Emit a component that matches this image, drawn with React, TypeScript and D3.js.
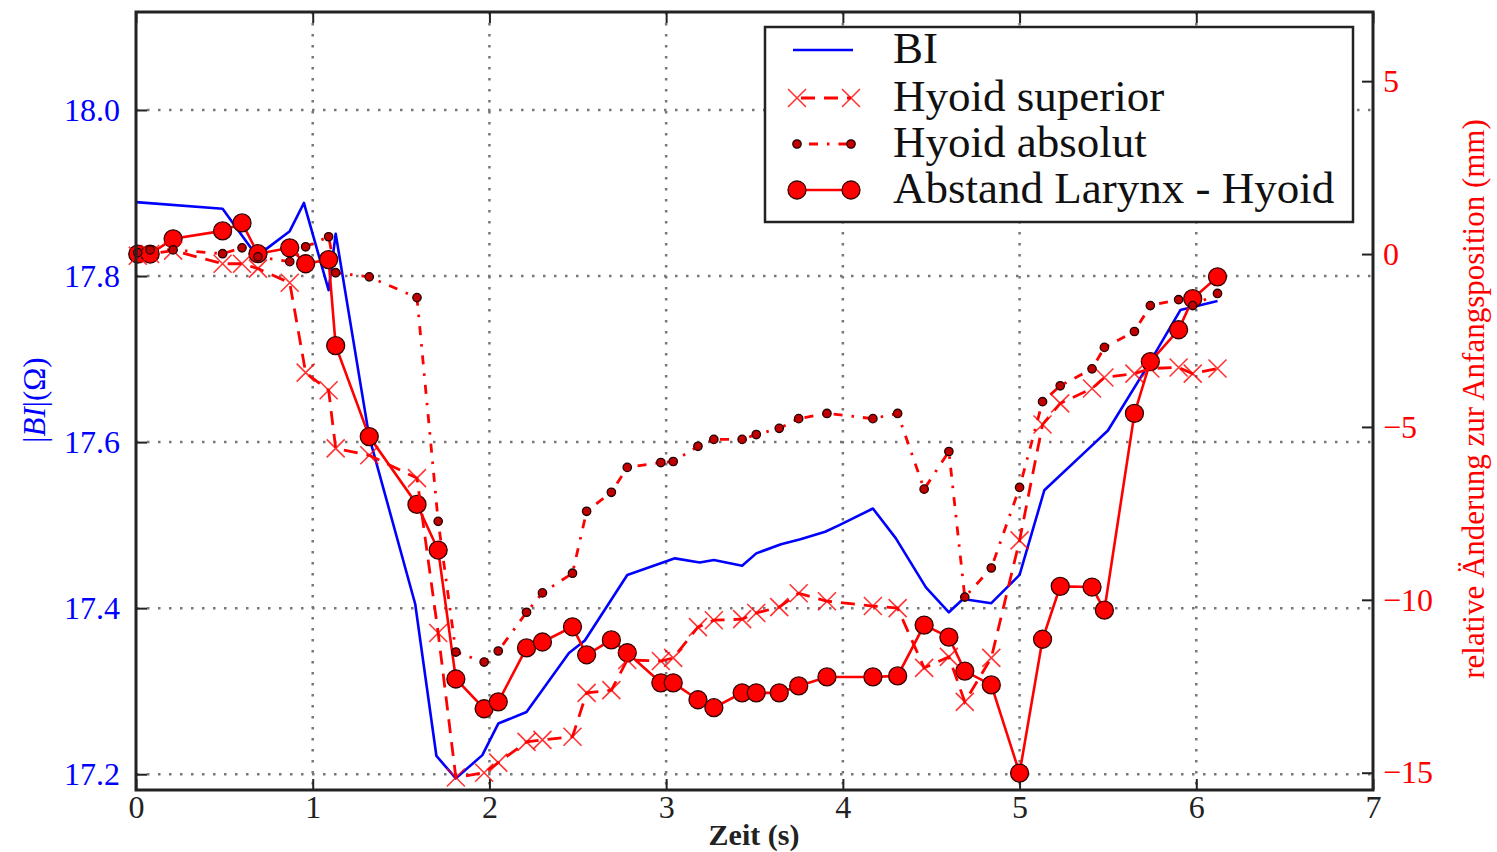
import React, { useEffect, useRef } from "react";
import * as d3 from "d3";

// BI impedance (left axis, Ohm)
const biTime = [0, 0.49, 0.66, 0.74, 0.87, 0.95, 1.09, 1.13, 1.32, 1.58, 1.7, 1.81, 1.96, 2.05, 2.21, 2.45, 2.54, 2.78, 3.05, 3.19, 3.27, 3.43, 3.51, 3.65, 3.76, 3.9, 3.98, 4.17, 4.3, 4.47, 4.6, 4.68, 4.84, 5.0, 5.14, 5.4, 5.5, 5.72, 5.91, 6.12];
const biValues = [17.889, 17.881, 17.831, 17.833, 17.854, 17.888, 17.783, 17.851, 17.606, 17.405, 17.222, 17.195, 17.223, 17.261, 17.275, 17.346, 17.361, 17.44, 17.46, 17.455, 17.458, 17.451, 17.466, 17.477, 17.483, 17.492, 17.5, 17.52, 17.484, 17.425, 17.395, 17.411, 17.406, 17.44, 17.542, 17.594, 17.614, 17.69, 17.759, 17.77];

// video frames shared by the three position series (right axis, mm)
const redTime = [0.01, 0.08, 0.21, 0.49, 0.6, 0.69, 0.87, 0.96, 1.09, 1.13, 1.32, 1.59, 1.71, 1.81, 1.97, 2.05, 2.21, 2.3, 2.47, 2.55, 2.69, 2.78, 2.97, 3.04, 3.18, 3.27, 3.43, 3.51, 3.64, 3.75, 3.91, 4.17, 4.31, 4.46, 4.6, 4.69, 4.84, 5.0, 5.13, 5.23, 5.41, 5.48, 5.65, 5.74, 5.9, 5.98, 6.12];
const hyoidSuperior = [-0.05, 0.0, 0.1, -0.28, -0.28, -0.42, -0.83, -3.43, -3.94, -5.62, -5.82, -6.48, -10.96, -15.14, -15.0, -14.71, -14.11, -14.05, -13.96, -12.69, -12.61, -11.74, -11.77, -11.68, -10.79, -10.59, -10.56, -10.38, -10.21, -9.81, -10.04, -10.18, -10.24, -11.97, -11.65, -12.95, -11.68, -8.28, -4.93, -4.32, -3.89, -3.57, -3.46, -3.31, -3.28, -3.46, -3.31];
const hyoidAbsolut = [0.04, 0.12, 0.12, 0.01, 0.18, -0.08, -0.22, 0.21, 0.5, -0.54, -0.66, -1.26, -7.73, -11.51, -11.8, -11.48, -10.36, -9.8, -9.23, -7.44, -6.89, -6.17, -6.03, -6.0, -5.56, -5.36, -5.36, -5.22, -5.04, -4.76, -4.61, -4.76, -4.61, -6.8, -5.71, -9.92, -9.08, -6.75, -4.27, -3.81, -3.32, -2.7, -2.24, -1.49, -1.32, -1.49, -1.14];
const abstandLarynxHyoid = [0.0, 0.0, 0.44, 0.67, 0.9, 0.01, 0.18, -0.28, -0.16, -2.65, -5.28, -7.24, -8.56, -12.29, -13.15, -12.95, -11.39, -11.22, -10.78, -11.59, -11.16, -11.53, -12.4, -12.4, -12.89, -13.12, -12.69, -12.69, -12.69, -12.49, -12.23, -12.23, -12.2, -10.73, -11.08, -12.06, -12.46, -15.01, -11.14, -9.61, -9.63, -10.3, -4.61, -3.11, -2.19, -1.29, -0.66];

const xTicks = [0, 1, 2, 3, 4, 5, 6, 7];
const leftTicks = [17.2, 17.4, 17.6, 17.8, 18.0];
const rightTicks = [-15, -10, -5, 0, 5];
const legendLabels = ["BI", "Hyoid superior", "Hyoid absolut", "Abstand Larynx - Hyoid"];

const W = 1497;
const H = 852;
const FONT = "'Liberation Serif', 'Times New Roman', serif";
const BLUE = "#0000ff";
const RED = "#ff0000";
const DASH = "14,9";
const DASHDOT = "9,9,2.5,9";

function App() {
  const svgRef = useRef(null);

  useEffect(() => {
    const svg = d3.select(svgRef.current);
    svg.selectAll("*").remove();

    const left = 136, right = 1373, top = 12, bottom = 790;
    const x = d3.scaleLinear().domain([0, 7]).range([left, right]);
    const yL = d3.scaleLinear().domain([17.181, 18.118]).range([bottom, top]);
    const yR = d3.scaleLinear().domain([-15.5, 7]).range([bottom, top]);

    svg.append("rect").attr("width", W).attr("height", H).attr("fill", "white");

    // grid
    const grid = svg.append("g").attr("stroke", "#777").attr("stroke-width", 2.5).attr("stroke-dasharray", "2.5,8.5");
    xTicks.slice(1, -1).forEach((t) => {
      grid.append("line").attr("x1", x(t)).attr("x2", x(t)).attr("y1", top).attr("y2", bottom);
    });
    leftTicks.forEach((v) => {
      grid.append("line").attr("x1", left).attr("x2", right).attr("y1", yL(v)).attr("y2", yL(v));
    });

    // axes
    const styleAxis = (g, color) => {
      g.select(".domain").remove();
      g.selectAll("line").attr("stroke", "#222").attr("stroke-width", 2);
      g.selectAll("text").attr("font-family", FONT).attr("font-size", 32).attr("fill", color);
    };
    svg.append("g").attr("transform", `translate(${left},0)`)
      .call(d3.axisLeft(yL).tickValues(leftTicks).tickFormat(d3.format(".1f")).tickSize(-11).tickPadding(16))
      .call((g) => styleAxis(g, BLUE));
    svg.append("g").attr("transform", `translate(${right},0)`)
      .call(d3.axisRight(yR).tickValues(rightTicks).tickFormat(d3.format("d")).tickSize(-11).tickPadding(10))
      .call((g) => styleAxis(g, RED));
    svg.append("g").attr("transform", `translate(0,${bottom})`)
      .call(d3.axisBottom(x).tickValues(xTicks).tickFormat(d3.format("d")).tickSize(-11).tickPadding(5))
      .call((g) => styleAxis(g, "#222"));
    svg.append("g").attr("transform", `translate(0,${top})`)
      .call(d3.axisTop(x).tickValues(xTicks).tickFormat(() => "").tickSize(-11))
      .call((g) => styleAxis(g, "#222"));

    // series
    const plot = svg.append("g");
    const biLine = d3.line<number>().x((d, i) => x(biTime[i])).y((d) => yL(d));
    plot.append("path").datum(biValues).attr("fill", "none").attr("stroke", BLUE)
      .attr("stroke-width", 2.6).attr("stroke-linejoin", "round").attr("d", biLine);

    const rLine = d3.line<number>().x((d, i) => x(redTime[i])).y((d) => yR(d));
    const xMark = (s) => `M${-s},${-s}L${s},${s}M${-s},${s}L${s},${-s}`;

    // Abstand Larynx - Hyoid
    plot.append("path").datum(abstandLarynxHyoid).attr("fill", "none").attr("stroke", RED)
      .attr("stroke-width", 2.6).attr("d", rLine);
    plot.append("g").selectAll("circle").data(abstandLarynxHyoid).join("circle")
      .attr("cx", (d, i) => x(redTime[i])).attr("cy", (d) => yR(d)).attr("r", 9)
      .attr("fill", RED).attr("stroke", "#300").attr("stroke-width", 1.3);

    // Hyoid superior
    plot.append("path").datum(hyoidSuperior).attr("fill", "none").attr("stroke", RED)
      .attr("stroke-width", 2.8).attr("stroke-dasharray", DASH).attr("d", rLine);
    plot.append("g").selectAll("path").data(hyoidSuperior).join("path")
      .attr("transform", (d, i) => `translate(${x(redTime[i])},${yR(d)})`)
      .attr("d", xMark(9)).attr("stroke", RED).attr("stroke-opacity", 0.8).attr("stroke-width", 1.6).attr("fill", "none");

    // Hyoid absolut
    plot.append("path").datum(hyoidAbsolut).attr("fill", "none").attr("stroke", RED)
      .attr("stroke-width", 2.8).attr("stroke-dasharray", DASHDOT).attr("d", rLine);
    plot.append("g").selectAll("circle").data(hyoidAbsolut).join("circle")
      .attr("cx", (d, i) => x(redTime[i])).attr("cy", (d) => yR(d)).attr("r", 4.2)
      .attr("fill", "#c00000").attr("stroke", "#200").attr("stroke-width", 1.3);

    // frame
    svg.append("rect").attr("x", left).attr("y", top).attr("width", right - left).attr("height", bottom - top)
      .attr("fill", "none").attr("stroke", "#222").attr("stroke-width", 3);

    // axis labels
    svg.append("text").attr("x", 754).attr("y", 845).attr("text-anchor", "middle")
      .attr("font-family", FONT).attr("font-size", 30).attr("font-weight", "bold").attr("fill", "#222")
      .text("Zeit (s)");
    const yl = svg.append("text").attr("transform", "translate(45,400) rotate(-90)").attr("text-anchor", "middle")
      .attr("font-family", FONT).attr("font-size", 31).attr("fill", BLUE);
    yl.append("tspan").text("|");
    yl.append("tspan").attr("font-style", "italic").text("BI");
    yl.append("tspan").text("|(Ω)");
    svg.append("text").attr("transform", "translate(1484,399) rotate(-90)").attr("text-anchor", "middle")
      .attr("font-family", FONT).attr("font-size", 31).attr("fill", RED)
      .text("relative Änderung zur Anfangsposition (mm)");

    // legend
    const lg = svg.append("g");
    lg.append("rect").attr("x", 765).attr("y", 27).attr("width", 588).attr("height", 195)
      .attr("fill", "white").attr("stroke", "#222").attr("stroke-width", 2.5);
    const rows = [50, 98, 144, 190];
    const hx1 = 797, hx2 = 851;
    lg.append("line").attr("x1", hx1 - 4).attr("x2", hx2 + 2).attr("y1", rows[0]).attr("y2", rows[0])
      .attr("stroke", BLUE).attr("stroke-width", 2.6);
    lg.append("line").attr("x1", hx1).attr("x2", hx2).attr("y1", rows[1]).attr("y2", rows[1])
      .attr("stroke", RED).attr("stroke-width", 2.8).attr("stroke-dasharray", DASH).attr("stroke-dashoffset", -4);
    [hx1, hx2].forEach((hx) => {
      lg.append("path").attr("transform", `translate(${hx},${rows[1]})`).attr("d", xMark(9))
        .attr("stroke", RED).attr("stroke-opacity", 0.8).attr("stroke-width", 1.6);
    });
    lg.append("line").attr("x1", hx1).attr("x2", hx2).attr("y1", rows[2]).attr("y2", rows[2])
      .attr("stroke", RED).attr("stroke-width", 2.8).attr("stroke-dasharray", DASHDOT).attr("stroke-dashoffset", -12);
    [hx1, hx2].forEach((hx) => {
      lg.append("circle").attr("cx", hx).attr("cy", rows[2]).attr("r", 4.2)
        .attr("fill", "#c00000").attr("stroke", "#200").attr("stroke-width", 1.3);
    });
    lg.append("line").attr("x1", hx1).attr("x2", hx2).attr("y1", rows[3]).attr("y2", rows[3])
      .attr("stroke", RED).attr("stroke-width", 2.6);
    [hx1, hx2].forEach((hx) => {
      lg.append("circle").attr("cx", hx).attr("cy", rows[3]).attr("r", 9)
        .attr("fill", RED).attr("stroke", "#300").attr("stroke-width", 1.3);
    });
    legendLabels.forEach((label, i) => {
      lg.append("text").attr("x", 893).attr("y", rows[i] + 13).attr("font-family", FONT)
        .attr("font-size", 45).attr("fill", "#111").text(label);
    });
  }, []);

  return (
    <div style={{ position: "absolute", left: 0, top: 0 }}>
      <svg ref={svgRef} width={W} height={H} style={{ display: "block" }}></svg>
    </div>
  );
}

export default App;
